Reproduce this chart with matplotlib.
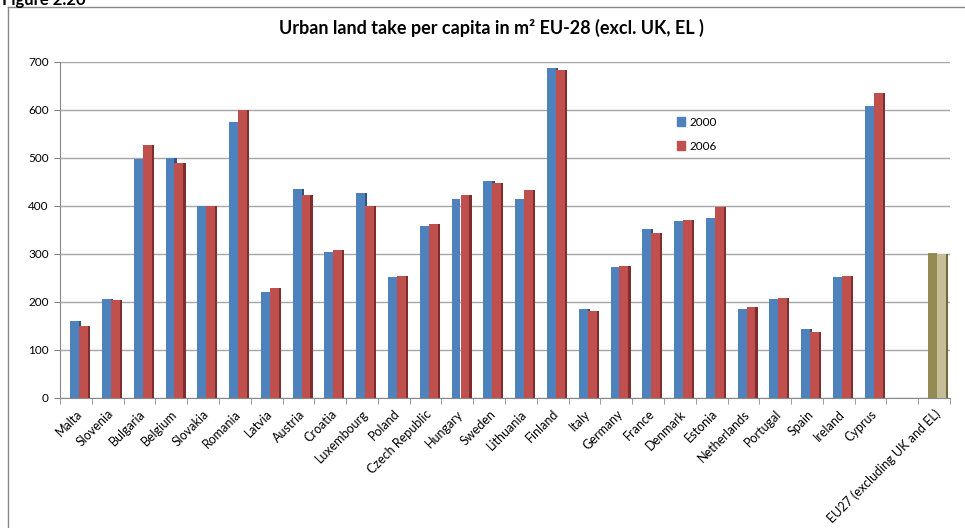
import matplotlib.pyplot as plt
from matplotlib.lines import Line2D
from matplotlib.patches import Patch
import numpy as np

# Data
countries = ['Malta', 'Slovenia', 'Bulgaria', 'Belgium', 'Slovakia', 'Romania', 'Latvia',
             'Austria', 'Croatia', 'Luxembourg', 'Poland', 'Czech Republic', 'Hungary',
             'Sweden', 'Lithuania', 'Finland', 'Italy', 'Germany', 'France', 'Denmark',
             'Estonia', 'Netherlands', 'Portugal', 'Spain', 'Ireland', 'Cyprus']
y2000 = [161, 207, 497, 500, 399, 575, 221, 435, 305, 428, 252, 359, 414, 453,
         414, 688, 185, 273, 352, 368, 375, 186, 207, 143, 252, 609]
y2006 = [151, 205, 528, 489, 400, 600, 230, 423, 309, 399, 254, 362, 422, 447,
         433, 684, 182, 276, 343, 371, 397, 190, 209, 138, 255, 635]
eu_label = 'EU27 (excluding UK and EL)'
eu2000 = 302
eu2006 = 300

labels = countries + ['', eu_label]
yticks = [0, 100, 200, 300, 400, 500, 600, 700]

blue, blue_side = '#4F81BD', '#2F5485'
red, red_side = '#C0504D', '#7E2F2D'
olive, olive_light, olive_side = '#948A54', '#C4BD97', '#6F6838'

plt.rcParams['font.family'] = ['Lato', 'DejaVu Sans']

fig = plt.figure(figsize=(9.65, 5.28), dpi=100)
ax = fig.add_axes([60 / 965, 1 - 398 / 528, 890 / 965, 336 / 528])

x = np.arange(len(countries))
w = 0.28
sw = 0.07
shift = 0.1

# side faces first (give the Excel 3D look)
ax.bar(x + shift + sw / 2, y2000, width=sw, color=blue_side, zorder=2)
ax.bar(x + w + shift + sw / 2, y2006, width=sw, color=red_side, zorder=2)
ax.bar(x - w / 2 + shift, y2000, width=w, color=blue, zorder=3)
ax.bar(x + w / 2 + shift, y2006, width=w, color=red, zorder=3)

xe = len(countries) + 1
ax.bar(xe + w + shift + sw / 2, eu2006, width=sw, color=olive_side, zorder=2)
ax.bar(xe - w / 2 + shift, eu2000, width=w, color=olive, zorder=3)
ax.bar(xe + w / 2 + shift, eu2006, width=w, color=olive_light, zorder=3)

ax.set_xlim(-0.5, len(labels) - 0.5)
ax.set_ylim(0, 700)
ax.set_yticks(yticks)
ax.set_yticklabels([str(t) for t in yticks], fontsize=8.5)
ax.set_xticks(np.arange(len(labels)))
ax.set_xticklabels(labels, rotation=45, ha='right', rotation_mode='anchor', fontsize=9)
ax.set_xticks(np.arange(len(labels) + 1) - 0.5, minor=True)
ax.tick_params(axis='x', which='major', length=0, pad=7)
ax.tick_params(axis='x', which='minor', length=4, color='#888888')
ax.tick_params(axis='y', length=4, color='#888888', pad=4)

ax.grid(axis='y', color='#A6A6A6', linewidth=1.0, zorder=0)
for s in ['top', 'right']:
    ax.spines[s].set_visible(False)
for s in ['left', 'bottom']:
    ax.spines[s].set_color('#888888')

leg = ax.legend(handles=[Patch(color=blue, label='2000'), Patch(color=red, label='2006')],
                loc='upper left', bbox_to_anchor=(666 / 965, 1 - 106 / 528),
                bbox_transform=fig.transFigure, frameon=False, fontsize=8.5,
                handlelength=0.7, handleheight=0.7, handletextpad=0.4, labelspacing=1.1)

fig.text(491 / 965, 1 - 28 / 528, 'Urban land take per capita in m\u00b2 EU-28 (excl. UK, EL )',
         ha='center', va='center', fontsize=13, fontweight='bold')
fig.text(2 / 965, 1 + 8 / 528, 'Figure 2.20', ha='left', va='top', fontsize=12, fontweight='bold')

# chart area border
fig.add_artist(Line2D([8 / 965, 8 / 965], [0, 1 - 7 / 528], color='#888888', lw=1))
fig.add_artist(Line2D([8 / 965, 1], [1 - 7 / 528, 1 - 7 / 528], color='#888888', lw=1))

fig.savefig('out.png', dpi=100)
